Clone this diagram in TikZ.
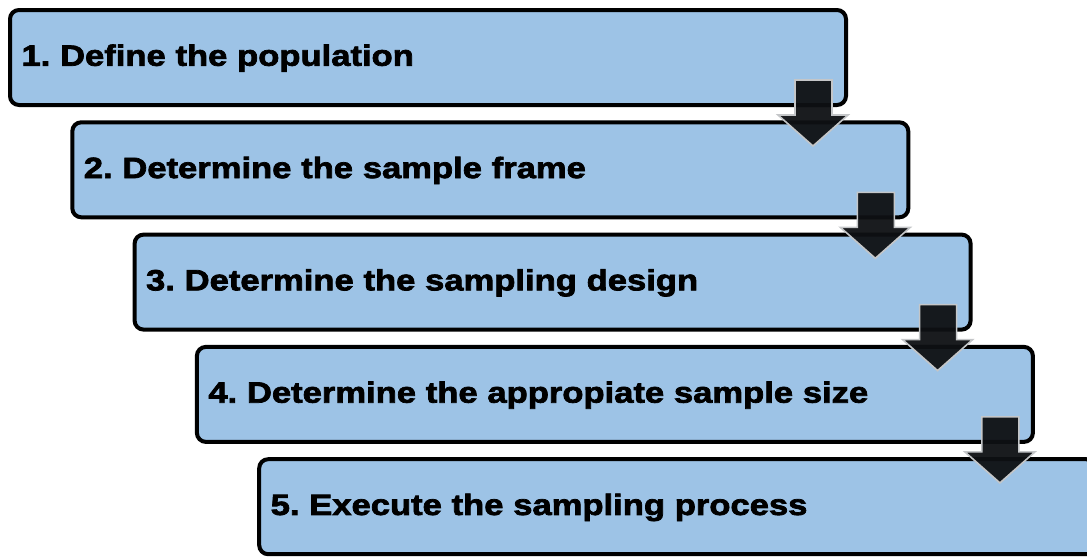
\documentclass[tikz,border=0pt]{standalone}
\usepackage{fontspec}
\newfontfamily\stepfont[FakeStretch=1.18, FakeBold=2.5]{Liberation Sans}
\definecolor{boxblue}{RGB}{157,195,230}
\definecolor{arrowdark}{RGB}{14,16,19}
\definecolor{arrowedge}{RGB}{196,198,200}
\tikzset{
  stepbox/.style={draw=black, line width=4pt, fill=boxblue, rounded corners=9pt,
    anchor=north west, outer sep=0pt, inner xsep=11.5pt, inner ysep=0pt,
    text width=813pt, minimum height=95pt, align=left,
    text height=21pt, text depth=4.5pt,
    font=\stepfont\bfseries\frenchspacing\fontsize{29.3}{34}\selectfont},
  blockarrow/.style={fill=arrowdark, fill opacity=0.95, draw=arrowedge, line width=1.6pt, line join=miter}
}
\begin{document}
\begin{tikzpicture}[x=1pt,y=-1pt]
\useasboundingbox (0,0) rectangle (1087,557);
\clip (0,0) rectangle (1087,557);
\node[stepbox] (b1) at (10,10) {1. Define the population};
\node[stepbox] (b2) at (72.3,122.3) {2. Determine the sample frame};
\node[stepbox] (b3) at (134.6,234.6) {3. Determine the sampling design};
\node[stepbox] (b4) at (196.9,346.9) {4. Determine the appropiate sample size};
\node[stepbox] (b5) at (259.2,459.2) {5. Execute the sampling process};
\foreach \n in {b1,b2,b3,b4}{
  \begin{scope}[shift={(\n.south east)}]
    \draw[blockarrow] (-51,-25) -- (-14,-25) -- (-14,10) -- (2,10) -- (-33,41) -- (-68,10) -- (-51,10) -- cycle;
  \end{scope}
}
\end{tikzpicture}
\end{document}
